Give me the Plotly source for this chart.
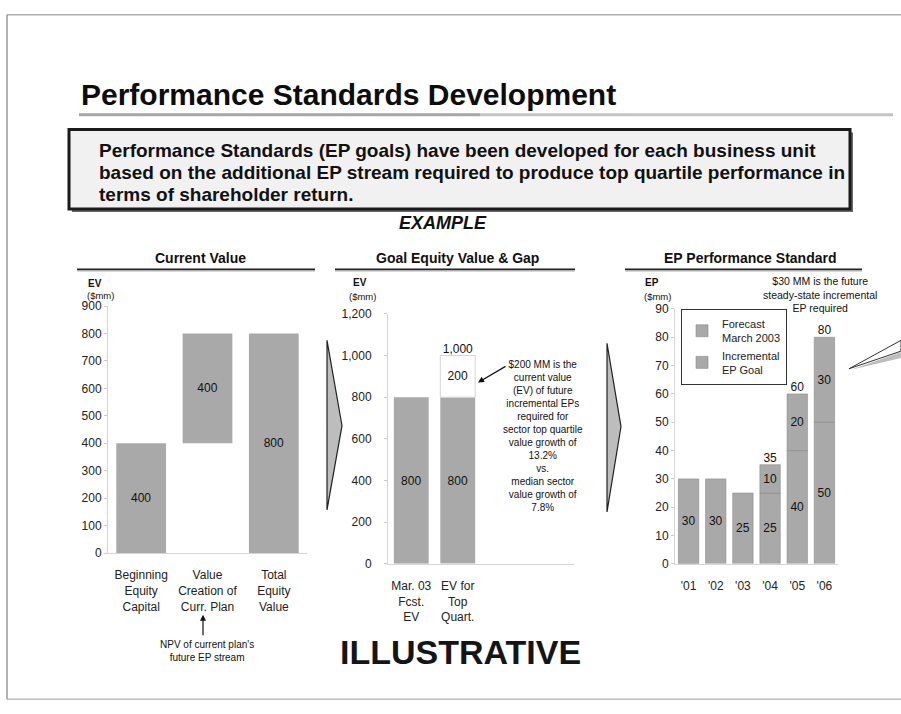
import plotly.graph_objects as go

W, H = 901, 714
FONT = "Arial, Liberation Sans, sans-serif"
NARROW = "Liberation Sans Narrow, Arial Narrow, Liberation Sans, sans-serif"
BAR_GREY = "#a9a9a9"
INK = "#1a1a1a"

# ---- Current Value panel (waterfall built from bases) ----
cv_categories = ["Beginning<br>Equity<br>Capital", "Value<br>Creation of<br>Curr. Plan", "Total<br>Equity<br>Value"]
cv_base = [0, 400, 0]
cv_values = [400, 400, 800]
cv_ticks = [0, 100, 200, 300, 400, 500, 600, 700, 800, 900]

# ---- Goal Equity Value & Gap panel ----
gv_categories = ["Mar. 03<br>Fcst.<br>EV", "EV for<br>Top<br>Quart."]
gv_spare_slots = [" ", "  "]
gv_current = [800, 800]
gv_gap_category = ["EV for<br>Top<br>Quart."]
gv_gap = [200]
gv_ticks = [0, 200, 400, 600, 800, 1000, 1200]

# ---- EP Performance Standard panel ----
ep_years = ["'01", "'02", "'03", "'04", "'05", "'06"]
ep_forecast = [30, 30, 25, 25, 40, 50]
ep_incremental = [0, 0, 0, 10, 20, 30]
ep_ticks = [0, 10, 20, 30, 40, 50, 60, 70, 80, 90]


def px(x):
    return x / W


def py(y):
    return 1 - y / H


def path(points):
    pts = [f"{px(x):.5f},{py(y):.5f}" for x, y in points]
    return "M " + " L ".join(pts) + " Z"


fig = go.Figure()

bar_text = dict(size=12, color="#111111", family=FONT)

# Current Value bars
fig.add_trace(go.Bar(
    x=cv_categories, y=cv_values, base=cv_base, width=0.75,
    marker=dict(color=BAR_GREY, line=dict(width=0)),
    text=[str(v) for v in cv_values], textposition="inside",
    insidetextanchor="middle", textangle=0, textfont=bar_text,
    xaxis="x", yaxis="y", showlegend=False, hoverinfo="skip"))

# Goal equity value bars
fig.add_trace(go.Bar(
    x=gv_categories, y=gv_current, width=0.75,
    marker=dict(color=BAR_GREY, line=dict(width=0)),
    text=[str(v) for v in gv_current], textposition="inside",
    insidetextanchor="middle", textangle=0, textfont=bar_text,
    xaxis="x2", yaxis="y2", showlegend=False, hoverinfo="skip"))
gap_base = [gv_current[gv_categories.index(c)] for c in gv_gap_category]
fig.add_trace(go.Bar(
    x=gv_gap_category, y=gv_gap, base=gap_base, width=0.75,
    marker=dict(color="#ffffff", line=dict(width=1, color="#d4d4d4")),
    text=[str(v) for v in gv_gap], textposition="inside",
    insidetextanchor="middle", textangle=0, textfont=bar_text,
    xaxis="x2", yaxis="y2", showlegend=False, hoverinfo="skip"))
gv_total = [b + g for b, g in zip(gap_base, gv_gap)]
fig.add_trace(go.Scatter(
    x=gv_gap_category, y=gv_total, mode="text",
    text=[f"{t:,}" for t in gv_total], textposition="top center",
    textfont=bar_text, cliponaxis=False,
    xaxis="x2", yaxis="y2", showlegend=False, hoverinfo="skip"))

# EP bars: forecast plus incremental goal on top
fig.add_trace(go.Bar(
    x=ep_years, y=ep_forecast, width=0.75, name="Forecast<br>March 2003",
    marker=dict(color=BAR_GREY, line=dict(width=0.6, color="#8a8a8a")),
    text=[str(v) for v in ep_forecast], textposition="inside",
    insidetextanchor="middle", textangle=0, textfont=bar_text,
    xaxis="x3", yaxis="y3", hoverinfo="skip"))
inc_years = [y for y, v in zip(ep_years, ep_incremental) if v > 0]
inc_vals = [v for v in ep_incremental if v > 0]
inc_base = [f for f, v in zip(ep_forecast, ep_incremental) if v > 0]
fig.add_trace(go.Bar(
    x=inc_years, y=inc_vals, base=inc_base, width=0.75, name="Incremental<br>EP Goal",
    marker=dict(color=BAR_GREY, line=dict(width=0.6, color="#8a8a8a")),
    text=[str(v) for v in inc_vals], textposition="inside",
    insidetextanchor="middle", textangle=0, textfont=bar_text,
    xaxis="x3", yaxis="y3", hoverinfo="skip"))
ep_totals = [b + v for b, v in zip(inc_base, inc_vals)]
fig.add_trace(go.Scatter(
    x=inc_years, y=ep_totals, mode="text",
    text=[str(t) for t in ep_totals], textposition="top center",
    textfont=bar_text, cliponaxis=False,
    xaxis="x3", yaxis="y3", showlegend=False, hoverinfo="skip"))

tick_font = dict(size=12, color="#222222", family=FONT)
axis_line = "#d6d6d6"

xcommon = dict(showgrid=False, zeroline=False, showline=True, linecolor=axis_line,
               linewidth=1, ticks="", tickfont=tick_font, fixedrange=True,
               ticklabelstandoff=11)
ycommon = dict(showgrid=False, zeroline=False, showline=True, linecolor=axis_line,
               linewidth=1, ticks="outside", ticklen=3, tickcolor="#cccccc",
               tickfont=tick_font, fixedrange=True)

fig.update_layout(
    width=W, height=H, autosize=False,
    margin=dict(l=0, r=0, t=0, b=0),
    paper_bgcolor="white", plot_bgcolor="white",
    barmode="overlay",
    font=dict(family=FONT, color="#111111"),
    xaxis=dict(domain=[px(108), px(307)], anchor="y", type="category",
               categoryorder="array", categoryarray=cv_categories,
               range=[-0.5, 2.5], **xcommon),
    yaxis=dict(domain=[py(557), py(305)], anchor="x", range=[0, 900],
               tickvals=cv_ticks, **ycommon),
    xaxis2=dict(domain=[px(388), px(574)], anchor="y2", type="category",
                categoryorder="array", categoryarray=gv_categories + gv_spare_slots,
                range=[-0.5, 3.5], tickvals=gv_categories, **xcommon),
    yaxis2=dict(domain=[py(568), py(313)], anchor="x2", range=[0, 1200],
                tickvals=gv_ticks, tickformat=",", ticklabelstandoff=10, **ycommon),
    xaxis3=dict(domain=[px(675), px(838)], anchor="y3", type="category",
                categoryorder="array", categoryarray=ep_years,
                range=[-0.5, 5.5], **xcommon),
    yaxis3=dict(domain=[py(568), py(308)], anchor="x3", range=[0, 90],
                tickvals=ep_ticks, **ycommon),
    legend=dict(x=px(681), y=py(308), xanchor="left", yanchor="top",
                bgcolor="white", bordercolor="#333333", borderwidth=1,
                font=dict(size=11, family=FONT, color="#222222"),
                itemwidth=30, tracegroupgap=0, traceorder="normal"),
)

shapes = []
# slide frame
shapes.append(dict(type="line", xref="paper", yref="paper", x0=px(7), x1=px(7), y0=py(8), y1=py(706),
                   line=dict(color="#666666", width=1)))
shapes.append(dict(type="line", xref="paper", yref="paper", x0=px(7), x1=1, y0=py(8), y1=py(8),
                   line=dict(color="#8a8a8a", width=1)))
shapes.append(dict(type="line", xref="paper", yref="paper", x0=px(7), x1=1, y0=py(706), y1=py(706),
                   line=dict(color="#9a9a9a", width=1)))
# title rule
shapes.append(dict(type="line", xref="paper", yref="paper", x0=px(79), x1=px(480), y0=py(110), y1=py(110),
                   line=dict(color="#a6a6a6", width=3)))
shapes.append(dict(type="line", xref="paper", yref="paper", x0=px(480), x1=px(893), y0=py(110), y1=py(110),
                   line=dict(color="#c4c4c4", width=3)))
# statement box with shadow
shapes.append(dict(type="rect", xref="paper", yref="paper", x0=px(72), x1=px(853), y0=py(128), y1=py(209),
                   fillcolor="#6a6a6a", line=dict(width=0)))
shapes.append(dict(type="rect", xref="paper", yref="paper", x0=px(69), x1=px(850), y0=py(125), y1=py(206),
                   fillcolor="#f1f1f1", line=dict(color=INK, width=3)))
# panel header rules
for x0, x1 in [(77, 315), (335, 575), (625, 862)]:
    shapes.append(dict(type="line", xref="paper", yref="paper", x0=px(x0), x1=px(x1), y0=py(269), y1=py(269),
                       line=dict(color="#b0b0b0", width=1.5)))
    shapes.append(dict(type="line", xref="paper", yref="paper", x0=px(x0), x1=px(x1), y0=py(267.5), y1=py(267.5),
                       line=dict(color="#222222", width=1.3)))
# flow chevrons between panels
shapes.append(dict(type="path", xref="paper", yref="paper",
                   path=path([(327, 340), (342, 427), (327, 513)]),
                   fillcolor="#bdbdbd", line=dict(color="#222222", width=1.2)))
shapes.append(dict(type="path", xref="paper", yref="paper",
                   path=path([(607, 343), (621, 428), (607, 515)]),
                   fillcolor="#bdbdbd", line=dict(color="#222222", width=1.2)))
# callout wedge at right edge
shapes.append(dict(type="path", xref="paper", yref="paper",
                   path=path([(901, 352), (851, 370), (901, 358)]),
                   fillcolor="#bdbdbd", line=dict(width=0)))
shapes.append(dict(type="path", xref="paper", yref="paper",
                   path=path([(901, 340), (849, 369), (901, 351)]),
                   fillcolor="white", line=dict(color="#333333", width=1)))
fig.update_layout(shapes=shapes)

ann = []


def text(x, y, s, size, xanchor="center", yanchor="middle", family=FONT, color="#111111", align="center"):
    ann.append(dict(x=px(x), y=py(y), xref="paper", yref="paper", text=s, showarrow=False,
                    xanchor=xanchor, yanchor=yanchor, align=align,
                    font=dict(size=size, family=family, color=color)))


text(79, 89, "<b>Performance Standards Development</b>", 30, xanchor="left", color="#0d0d0d")
text(97, 146, "<b>Performance Standards (EP goals) have been developed for each business unit</b>", 19,
     xanchor="left", family=NARROW)
text(97, 169, "<b>based on the additional EP stream required to produce top quartile performance in</b>", 19,
     xanchor="left", family=NARROW)
text(97, 191, "<b>terms of shareholder return.</b>", 19, xanchor="left", family=NARROW)
text(443, 220, "<b><i>EXAMPLE</i></b>", 18)

text(200, 256, "<b>Current Value</b>", 14)
text(457, 256, "<b>Goal Equity Value &amp; Gap</b>", 14)
text(750, 256, "<b>EP Performance Standard</b>", 14)

text(86, 282, "<b>EV</b>", 10, xanchor="left")
text(85, 294, "($mm)", 9.5, xanchor="left")
text(351, 281, "<b>EV</b>", 10, xanchor="left")
text(347, 295, "($mm)", 9.5, xanchor="left")
text(643, 281, "<b>EP</b>", 10, xanchor="left")
text(642, 295, "($mm)", 9.5, xanchor="left")

text(543, 438, "$200 MM is the<br>current value<br>(EV) of future<br>incremental EPs<br>required for"
     "<br>sector top quartile<br>value growth of<br>13.2%<br>vs.<br>median sector<br>value growth of<br>7.8%", 10)
text(820, 293, "$30 MM is the future<br>steady-state incremental<br>EP required", 10.5)
text(207, 657, "NPV of current plan's<br>future EP stream", 10, family=NARROW)
text(460, 658, "<b>ILLUSTRATIVE</b>", 34, color="#151515")

# pointer arrows
ann.append(dict(x=px(478), y=py(383), xref="paper", yref="paper", text="", showarrow=True,
                ax=29, ay=-17, arrowhead=2, arrowsize=1, arrowwidth=1.2, arrowcolor="#111111"))
ann.append(dict(x=px(203), y=py(620), xref="paper", yref="paper", text="", showarrow=True,
                ax=0, ay=22, arrowhead=2, arrowsize=1, arrowwidth=1.2, arrowcolor="#111111"))

fig.update_layout(annotations=ann)

fig.write_html("out.html")
